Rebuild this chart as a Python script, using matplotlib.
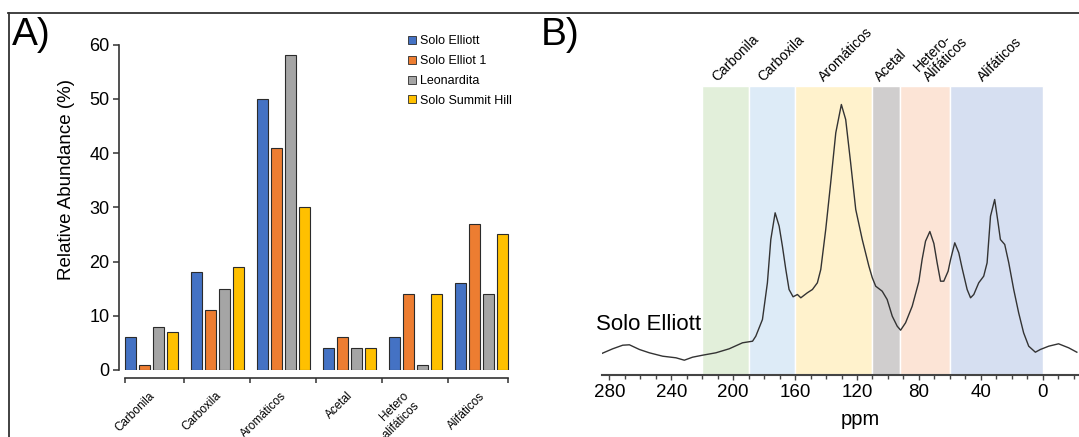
import numpy as np
import matplotlib.pyplot as plt
from matplotlib.lines import Line2D
from matplotlib.patches import Patch
from matplotlib.transforms import ScaledTranslation

plt.rcParams['font.family'] = ['Liberation Sans', 'DejaVu Sans']

# Panel A data
categorias = ['Carbonila', 'Carboxila', 'Aromáticos', 'Acetal', 'Hetero\n-alifáticos', 'Alifáticos']
amostras = ['Solo Elliott', 'Solo Elliot 1', 'Leonardita', 'Solo Summit Hill']
solo_elliott = [6, 18, 50, 4, 6, 16]
solo_elliot_1 = [1, 11, 41, 6, 14, 27]
leonardita = [8, 15, 58, 4, 1, 14]
summit_hill = [7, 19, 30, 4, 14, 25]
cores = ['#4472C4', '#ED7D31', '#A5A5A5', '#FFC000']

# Panel B data (espectro, intensidade em u.a.)
ppm = [285.4, 277.9, 271.4, 267.1, 260.6, 254.2, 245.6, 237.0, 231.6, 226.3,
       219.8, 211.2, 202.6, 194.0, 187.5, 185.4, 181.1, 177.9, 175.7, 172.9,
       170.3, 168.2, 166.0, 163.9, 161.3, 158.5, 156.3, 152.1, 148.8, 145.6,
       143.4, 140.2, 137.0, 133.7, 130.1, 127.3, 124.1, 120.8, 116.6, 112.3,
       110.1, 107.9, 103.7, 100.5, 97.2, 94.0, 91.8, 88.6, 84.3, 80.0,
       77.9, 75.7, 72.9, 70.3, 68.2, 66.0, 63.9, 61.1, 59.5, 56.8,
       54.2, 52.1, 48.8, 46.6, 44.5, 41.3, 38.1, 35.9, 33.7, 31.0,
       28.8, 27.3, 24.5, 21.9, 18.7, 15.5, 12.3, 9.0, 4.7, 1.5,
       -3.9, -10.3, -16.8, -22.1]
intensidade = [20.7, 25.7, 29.3, 29.7, 25.0, 21.7, 18.3, 16.7, 14.3, 17.3,
               19.3, 21.7, 25.7, 31.7, 33.3, 38.3, 55.0, 91.7, 135.0, 161.7,
               148.3, 128.3, 105.0, 85.0, 77.7, 80.0, 76.7, 81.7, 85.0, 91.7,
               105.0, 145.0, 191.7, 241.7, 270.0, 255.0, 211.7, 165.0, 135.0, 108.3,
               96.7, 88.3, 83.3, 75.0, 58.3, 48.3, 44.3, 51.7, 68.3, 93.0,
               115.0, 133.3, 143.0, 131.0, 111.7, 93.3, 93.3, 103.3, 115.0, 131.7,
               121.7, 106.7, 85.0, 76.7, 80.0, 91.7, 98.3, 111.7, 158.3, 175.0,
               151.7, 135.0, 130.0, 111.7, 85.0, 61.7, 41.7, 28.3, 22.3, 25.0,
               28.3, 30.7, 26.7, 22.3]
regioes = ['Carbonila', 'Carboxila', 'Aromáticos', 'Acetal', 'Hetero-\nAlifáticos', 'Alifáticos']
limites = [(220, 190), (190, 160), (160, 110), (110, 92), (92, 60), (60, 0)]
cores_regioes = ['#E2EFDA', '#DDEBF7', '#FFF2CC', '#D0CECE', '#FCE4D6', '#D6DFF1']
pos_rotulos = [209, 179, 140, 104, 72, 37]

fig = plt.figure(figsize=(10.79, 4.37), dpi=100)

# moldura
fig.add_artist(Line2D([8 / 1079, 1], [1 - 13 / 437] * 2, color='#333333', lw=1.3))
fig.add_artist(Line2D([8.5 / 1079] * 2, [0, 1 - 13 / 437], color='#333333', lw=1.3))

fig.text(12 / 1079, 1 - 45 / 437, 'A)', fontsize=28, va='baseline')
fig.text(541 / 1079, 1 - 45 / 437, 'B)', fontsize=28, va='baseline')

# ---- Painel A
axA = fig.add_axes([119 / 1079, 67 / 437, 392 / 1079, 325.5 / 437])
x = np.arange(len(categorias))
largura = 0.167
series = [solo_elliott, solo_elliot_1, leonardita, summit_hill]
for k, (vals, cor) in enumerate(zip(series, cores)):
    axA.bar(x + (k - 1.5) * 0.212, vals, width=largura, color=cor,
            edgecolor='#2b2b2b', linewidth=0.8, label=amostras[k])

axA.set_xlim(-0.488, 5.45)
axA.set_ylim(0, 60)
axA.spines['top'].set_visible(False)
axA.spines['right'].set_visible(False)
axA.spines['left'].set_bounds(0, 60)
axA.spines['bottom'].set_position(('outward', 5.8))
axA.spines['bottom'].set_bounds(-0.4015, 5.4015)
for s in ['left', 'bottom']:
    axA.spines[s].set_color('#333333')
    axA.spines[s].set_linewidth(1.2)

axA.set_yticks([0, 10, 20, 30, 40, 50, 60])
axA.tick_params(axis='y', labelsize=13, length=4.3, width=1.1, pad=2.5, color='#333333')
axA.set_xticks([-0.4015, 0.5, 1.5, 2.5, 3.5, 4.5, 5.4015])
axA.set_xticklabels([])
axA.tick_params(axis='x', which='major', length=3.6, width=1.1, color='#333333')
axA.set_xticks(x, minor=True)
axA.set_xticklabels(categorias, minor=True, rotation=45, ha='right', va='top', fontsize=8.5)
axA.tick_params(axis='x', which='minor', length=0, pad=8.5)
desloc = ScaledTranslation(6 / 100, 0, fig.dpi_scale_trans)
for lbl in axA.get_xticklabels(minor=True):
    lbl.set_transform(lbl.get_transform() + desloc)

axA.set_ylabel('Relative Abundance (%)', fontsize=13.5)
axA.yaxis.set_label_coords(-0.112, 0.584)

handles = [Patch(facecolor=c, edgecolor='#2b2b2b', linewidth=0.6) for c in cores]
fig.legend(handles, amostras, loc='upper left', bbox_to_anchor=(408 / 1079, 1 - 35.5 / 437),
           frameon=False, fontsize=9, handlelength=0.6, handleheight=0.6,
           handletextpad=0.35, labelspacing=0.62, borderpad=0, borderaxespad=0)

# ---- Painel B
axB = fig.add_axes([601.7 / 1079, 62.5 / 437, 477.3 / 1079, 288.5 / 437])
for (a, b), cor in zip(limites, cores_regioes):
    axB.axvspan(a, b, ymin=0, ymax=1, facecolor=cor, edgecolor='white', lw=1, zorder=1)
axB.plot(ppm, intensidade, color='#333333', lw=1.0, zorder=3)

axB.set_xlim(285.0, -23.5)
axB.set_ylim(0, 288.5)
for s in ['top', 'right', 'left']:
    axB.spines[s].set_visible(False)
axB.spines['bottom'].set_color('#444444')
axB.spines['bottom'].set_linewidth(1.5)
axB.set_yticks([])
axB.set_xticks(np.arange(280, -1, -40))
axB.set_xticks(np.arange(280, -21, -10), minor=True)
axB.tick_params(axis='x', which='major', labelsize=13.5, length=3.5, width=1, pad=3, color='#444444')
axB.tick_params(axis='x', which='minor', length=3, width=1, color='#444444')
axB.set_xlabel('ppm', fontsize=14.5)
axB.xaxis.set_label_coords(0.541, -0.123)

for nome, xp in zip(regioes, pos_rotulos):
    axB.text(xp, 290, nome, rotation=45, rotation_mode='anchor', ha='left', va='bottom',
             multialignment='left', fontsize=10, clip_on=False, linespacing=1.0)

axB.text(288.7, 45, 'Solo Elliott', fontsize=16, va='baseline', ha='left', clip_on=False)

plt.savefig('out.png', dpi=100)
